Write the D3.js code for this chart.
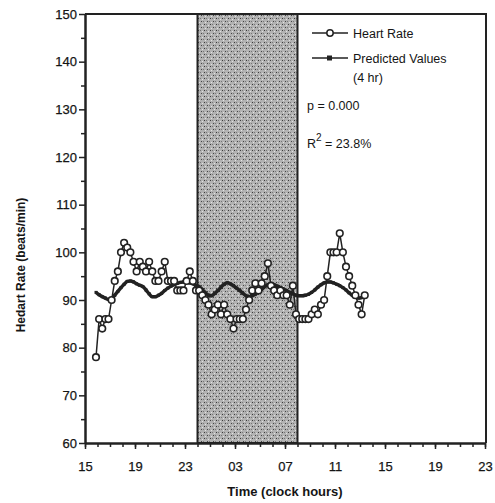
<!DOCTYPE html>
<html>
<head>
<meta charset="utf-8">
<script src="https://cdn.jsdelivr.net/npm/d3@7"></script>
<style>
  html, body { margin: 0; padding: 0; background: #fff; }
  svg { display: block; }
  text { font-family: "Liberation Sans", Arial, Helvetica, sans-serif; fill: #151515; }
</style>
</head>
<body>
<svg id="chart" width="495" height="503"></svg>
<script>
// ---- data ----
const startHour = 15.88;       // first sample (clock hours, continuing past midnight)
const sampleStep = 0.25;       // hours between samples
const heartRate = [78,86,84,86,86,90,94,96,100,102,101,100,98,96,98,97,96,98,96,94,
  94,96,98,94,94,94,92,92,92,94,96,94,92,92,91,90,89,87,88,89,
  87,89,87,86,84,86,86,86,88,90,92,93.5,92,93.5,95,97.7,93,92,91,92,
  91,91,89,93,87,86,86,86,86,87,88,87,89,90,95,100,100,100,104,100,
  97,95,93,91,89,87,91];
const predicted = [91.6,91.1,90.7,90.4,90.1,90.3,91.0,91.8,92.6,93.3,93.9,94.0,93.8,93.4,93.1,92.8,
  92.1,91.3,90.7,90.7,91.0,91.4,92.0,92.5,92.9,93.2,93.5,93.7,93.8,93.8,93.6,93.4,
  93.1,92.8,92.2,91.5,91.0,90.9,91.4,92.0,92.7,93.3,93.6,93.4,93.0,92.5,92.0,91.4,
  90.9,90.7,90.9,91.2,91.7,92.2,92.8,93.2,93.3,93.2,92.9,92.6,92.3,92.0,91.6,91.3,
  91.0,90.9,90.9,91.0,91.2,91.6,92.1,92.7,93.2,93.6,93.8,93.8,93.6,93.3,93.0,92.6,
  92.1,91.5,91.0,90.6,90.4,90.5,90.8];
const xMajorTicks = [15,19,23,27,31,35,39,43,47];
const xTickLabels = ["15","19","23","03","07","11","15","19","23"];
const yMajorTicks = [60,70,80,90,100,110,120,130,140,150];
const sleepPeriod = [24, 32];   // shaded interval (00:00 - 08:00)
const legendItems = ["Heart Rate", "Predicted Values", "(4 hr)"];
const statsText = ["p = 0.000", "23.8%"];

const ink = "#222";
const svg = d3.select("#chart");
const x = d3.scaleLinear().domain([15, 47]).range([85, 485]);
const y = d3.scaleLinear().domain([60, 150]).range([443, 14]);

const hrData = heartRate.map((v, i) => ({t: startHour + i * sampleStep, v}));
const prData = predicted.map((v, i) => ({t: startHour + i * sampleStep, v}));

// pattern for shaded band
const defs = svg.append("defs");
const pat = defs.append("pattern").attr("id", "dots").attr("width", 6).attr("height", 6)
  .attr("patternUnits", "userSpaceOnUse");
pat.append("rect").attr("width", 6).attr("height", 6).attr("fill", "#b2b2b2");
[[0,0,"#3a3a3a"],[3,3,"#444"],[1,4,"#e2e2e2"],[4,1,"#e2e2e2"],[2,0,"#777"],[5,3,"#777"]]
  .forEach(([px, py, c]) => pat.append("rect").attr("x", px).attr("y", py)
    .attr("width", 1).attr("height", 1).attr("fill", c));

// shaded band
svg.append("rect")
  .attr("x", x(sleepPeriod[0])).attr("y", y(150))
  .attr("width", x(sleepPeriod[1]) - x(sleepPeriod[0]))
  .attr("height", y(60) - y(150))
  .attr("fill", "url(#dots)")
  .attr("stroke", ink).attr("stroke-width", 2);

// frame (top & right)
svg.append("path")
  .attr("d", `M${x(15)},${y(150)}H${x(47) + 1}V${y(60)}`)
  .attr("fill", "none").attr("stroke", ink).attr("stroke-width", 2);

// x axis minor
const xMinor = d3.range(15, 48, 1);
svg.append("g").attr("transform", `translate(0,${y(60)})`)
  .call(d3.axisBottom(x).tickValues(xMinor).tickSize(4).tickFormat(""))
  .call(g => g.select(".domain").remove())
  .call(g => g.selectAll("line").attr("stroke", ink).attr("stroke-width", 1.5));
// x axis major
svg.append("g").attr("transform", `translate(0,${y(60)})`)
  .call(d3.axisBottom(x).tickValues(xMajorTicks).tickSize(6).tickSizeOuter(0)
    .tickFormat((d, i) => xTickLabels[i]))
  .call(g => g.select(".domain").attr("stroke", ink).attr("stroke-width", 2.5))
  .call(g => g.selectAll("line").attr("stroke", ink).attr("stroke-width", 1.5))
  .call(g => g.selectAll("text").attr("font-size", 13).attr("dy", "1.45em")
    .style("font-family", "'Liberation Sans', Arial, sans-serif").attr("fill", "#151515")
    .attr("stroke", "#151515").attr("stroke-width", 0.25));

// y axis minor
svg.append("g").attr("transform", `translate(${x(15)},0)`)
  .call(d3.axisLeft(y).tickValues(d3.range(65, 150, 10)).tickSize(4).tickFormat(""))
  .call(g => g.select(".domain").remove())
  .call(g => g.selectAll("line").attr("stroke", ink).attr("stroke-width", 1.5));
// y axis major
svg.append("g").attr("transform", `translate(${x(15)},0)`)
  .call(d3.axisLeft(y).tickValues(yMajorTicks).tickSize(6).tickSizeOuter(0))
  .call(g => g.select(".domain").attr("stroke", ink).attr("stroke-width", 2.5))
  .call(g => g.selectAll("line").attr("stroke", ink).attr("stroke-width", 1.5))
  .call(g => g.selectAll("text").attr("font-size", 13).attr("x", -8)
    .style("font-family", "'Liberation Sans', Arial, sans-serif").attr("fill", "#151515")
    .attr("stroke", "#151515").attr("stroke-width", 0.25));

// axis titles
svg.append("text").attr("x", x(31)).attr("y", 496).attr("text-anchor", "middle")
  .attr("font-size", 13).attr("font-weight", "bold").text("Time (clock hours)");
svg.append("text").attr("transform", `translate(25,265) rotate(-90)`)
  .attr("text-anchor", "middle").attr("font-size", 12).attr("font-weight", "bold")
  .text("Hedart Rate (beats/min)");

// predicted line
svg.append("path").datum(prData)
  .attr("d", d3.line().x(d => x(d.t)).y(d => y(d.v)).curve(d3.curveMonotoneX))
  .attr("fill", "none").attr("stroke", ink).attr("stroke-width", 3.5)
  .attr("stroke-linejoin", "round");
svg.append("g").selectAll("rect").data(prData).join("rect")
  .attr("x", d => x(d.t) - 1.5).attr("y", d => y(d.v) - 1.5)
  .attr("width", 3).attr("height", 3).attr("fill", ink);

// heart rate line
svg.append("path").datum(hrData)
  .attr("d", d3.line().x(d => x(d.t)).y(d => y(d.v)))
  .attr("fill", "none").attr("stroke", ink).attr("stroke-width", 1.5);
svg.append("g").selectAll("circle").data(hrData).join("circle")
  .attr("cx", d => x(d.t)).attr("cy", d => y(d.v)).attr("r", 3.3)
  .attr("fill", "#fff").attr("stroke", ink).attr("stroke-width", 1.6);

// legend
const lg = svg.append("g");
lg.append("line").attr("x1", 312).attr("x2", 348).attr("y1", 33).attr("y2", 33)
  .attr("stroke", ink).attr("stroke-width", 1.5);
lg.append("circle").attr("cx", 330).attr("cy", 33).attr("r", 3.2)
  .attr("fill", "#fff").attr("stroke", ink).attr("stroke-width", 1.5);
lg.append("line").attr("x1", 312).attr("x2", 348).attr("y1", 58).attr("y2", 58)
  .attr("stroke", ink).attr("stroke-width", 1.5);
lg.append("rect").attr("x", 327).attr("y", 55.5).attr("width", 5).attr("height", 5).attr("fill", ink);
lg.append("text").attr("x", 353).attr("y", 38).attr("font-size", 12.5).text(legendItems[0]);
lg.append("text").attr("x", 353).attr("y", 63).attr("font-size", 12.5).text(legendItems[1]);
lg.append("text").attr("x", 353).attr("y", 82).attr("font-size", 12.5).text(legendItems[2]);
lg.append("text").attr("x", 307).attr("y", 110).attr("font-size", 12.5).text(statsText[0]);
const r2 = lg.append("text").attr("x", 307).attr("y", 148).attr("font-size", 12.5);
r2.append("tspan").text("R");
r2.append("tspan").attr("dy", -7).attr("font-size", 10).text("2");
r2.append("tspan").attr("dy", 7).text(" = " + statsText[1]);
</script>
</body>
</html>
